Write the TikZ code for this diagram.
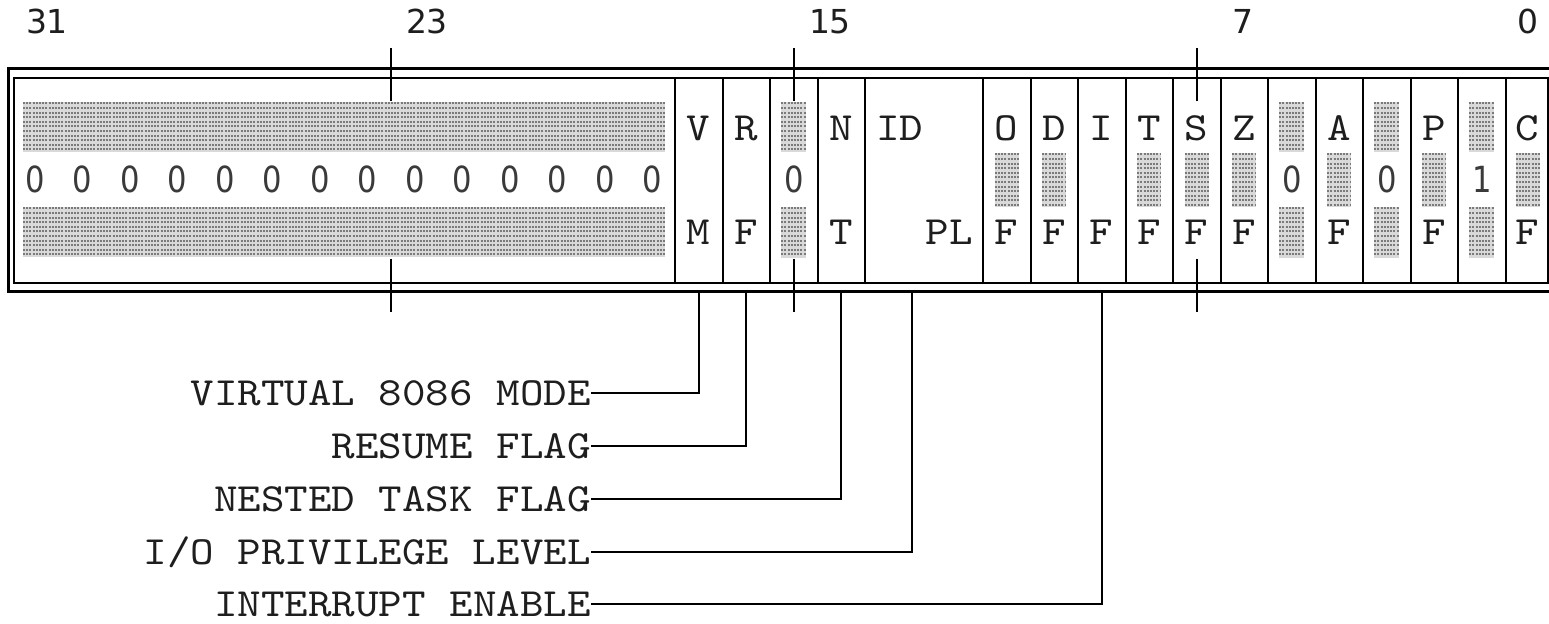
\documentclass[tikz,border=0pt]{standalone}
\usepackage{fontspec}
\newfontfamily\monofont[FakeStretch=1.12]{lmmono10-regular.otf}
\newfontfamily\digfont[FakeStretch=0.85]{DejaVu Sans}
\newfontfamily\numfont{DejaVu Sans}
\definecolor{ink}{HTML}{1E1E1E}
\definecolor{diggray}{HTML}{3A3A3A}
\tikzset{
  lettr/.style={font=\monofont\fontsize{20}{22}\selectfont, text=ink, inner sep=0pt, text height=12.2pt, text depth=0pt},
  lbl/.style={lettr, anchor=east},
  digit/.style={font=\digfont\fontsize{18}{20}\selectfont, text=diggray, inner sep=0pt, text height=13pt, text depth=0pt},
  bitnum/.style={font=\numfont\fontsize{16.5}{18}\selectfont, text=ink, inner sep=0pt, text height=12pt, text depth=0pt},
  hatchbg/.style={fill=black!15},
  hatchrow/.style={draw=black!52, line width=1pt, dash pattern=on 1pt off 0.6pt},
  frameout/.style={line width=1.7pt},
  framein/.style={line width=1pt},
  sepline/.style={line width=1pt},
  tick/.style={line width=1pt},
  conn/.style={line width=1.25pt}
}
\newcommand\hatchrect[4]{%
  \fill[hatchbg] (#1,#2) rectangle (#3,#4);
  \pgfmathtruncatemacro\nrows{((#4)-(#2)-3)/4.6}
  \foreach \k in {0,...,\nrows}{\draw[hatchrow] (#1,{#2+1.5+4.6*\k}) -- (#3,{#2+1.5+4.6*\k});}
}
\begin{document}
\begin{tikzpicture}[x=0.5pt,y=-0.5pt]
\useasboundingbox (0,0) rectangle (1549,624);
\clip (0,0) rectangle (1549,624);
\fill[white] (0,0) rectangle (1549,624);

% hatched areas of the reserved field
\hatchrect{23}{102}{665}{152}
\hatchrect{23}{207}{665}{257}
% reserved single bits: 15, 5, 3, 1
\foreach \cx in {793.75,1291.75,1386.75,1481.75}{
  \hatchrect{\cx-12.5}{102}{\cx+12.5}{152}
  \hatchrect{\cx-12.5}{207}{\cx+12.5}{258}
}
% middle hatches of flags O D T S Z A P C
\foreach \cx in {1006.75,1054.25,1149.25,1196.75,1244.25,1339.25,1434.25,1527.5}{
  \hatchrect{\cx-12}{153}{\cx+12}{207}
}

% frame
\draw[frameout] (1600,68.7) -- (8.5,68.7) -- (8.5,291.7) -- (1600,291.7);
\draw[framein] (1600,78.3) -- (13.7,78.3) -- (13.7,283) -- (1600,283);
\foreach \bx in {675,722.5,770,817.5,865,983,1030.5,1078,1125.5,1173,1220.5,1268,1315.5,1363,1410.5,1458,1505.5,1548}{
  \draw[sepline] (\bx,78.3) -- (\bx,283);
}

% bit ticks
\foreach \tx in {391,793.75,1196.75}{
  \draw[tick] (\tx,48) -- (\tx,101);
  \draw[tick] (\tx,259) -- (\tx,312);
}

% bit numbers
\node[bitnum] (n31) at (47,22) {31};
\node[bitnum] (n23) at (427,22) {23};
\node[bitnum] (n15) at (830,22) {15};
\node[bitnum] (n7) at (1243,22) {7};
\node[bitnum] (n0) at (1528,22) {0};

% zeros of bits 31..18
\foreach \k in {0,...,13}{
  \node[digit] (z\k) at ({35+47.5*\k},180) {0};
}

% cell letters
\node[lettr] (vmt) at (698.75,128) {V};
\node[lettr] (vmb) at (698.75,232) {M};
\node[lettr] (rft) at (746.25,128) {R};
\node[lettr] (rfb) at (746.25,232) {F};
\node[digit] (b15) at (793.75,180) {0};
\node[lettr] (ntt) at (841.25,128) {N};
\node[lettr] (ntb) at (841.25,232) {T};
\node[lettr, anchor=west] (idt) at (876,128) {ID};
\node[lettr, anchor=east] (plb) at (973,232) {PL};
\node[lettr] (oft) at (1006.75,128) {O};
\node[lettr] (ofb) at (1006.75,232) {F};
\node[lettr] (dft) at (1054.25,128) {D};
\node[lettr] (dfb) at (1054.25,232) {F};
\node[lettr] (ift) at (1101.75,128) {I};
\node[lettr] (ifb) at (1101.75,232) {F};
\node[lettr] (tft) at (1149.25,128) {T};
\node[lettr] (tfb) at (1149.25,232) {F};
\node[lettr] (sft) at (1196.75,128) {S};
\node[lettr] (sfb) at (1196.75,232) {F};
\node[lettr] (zft) at (1244.25,128) {Z};
\node[lettr] (zfb) at (1244.25,232) {F};
\node[digit] (b5) at (1291.75,180) {0};
\node[lettr] (aft) at (1339.25,128) {A};
\node[lettr] (afb) at (1339.25,232) {F};
\node[digit] (b3) at (1386.75,180) {0};
\node[lettr] (pft) at (1434.25,128) {P};
\node[lettr] (pfb) at (1434.25,232) {F};
\node[digit] (b1) at (1481.75,180) {1};
\node[lettr] (cft) at (1527.5,128) {C};
\node[lettr] (cfb) at (1527.5,232) {F};

% labels
\node[lbl] (lvm) at (591,393) {VIRTUAL 8086 MODE};
\node[lbl] (lrf) at (591,446) {RESUME FLAG};
\node[lbl] (lnt) at (591,499) {NESTED TASK FLAG};
\node[lbl] (lio) at (591,552) {I/O PRIVILEGE LEVEL};
\node[lbl] (lif) at (591,604) {INTERRUPT ENABLE};

% connector roots on the frame
\coordinate (cvm) at (699,292);
\coordinate (crf) at (746,292);
\coordinate (cnt) at (841,292);
\coordinate (cio) at (912,292);
\coordinate (cif) at (1102,292);

\draw[conn] (cvm) |- (lvm.east);
\draw[conn] (crf) |- (lrf.east);
\draw[conn] (cnt) |- (lnt.east);
\draw[conn] (cio) |- (lio.east);
\draw[conn] (cif) |- (lif.east);
\end{tikzpicture}
\end{document}
